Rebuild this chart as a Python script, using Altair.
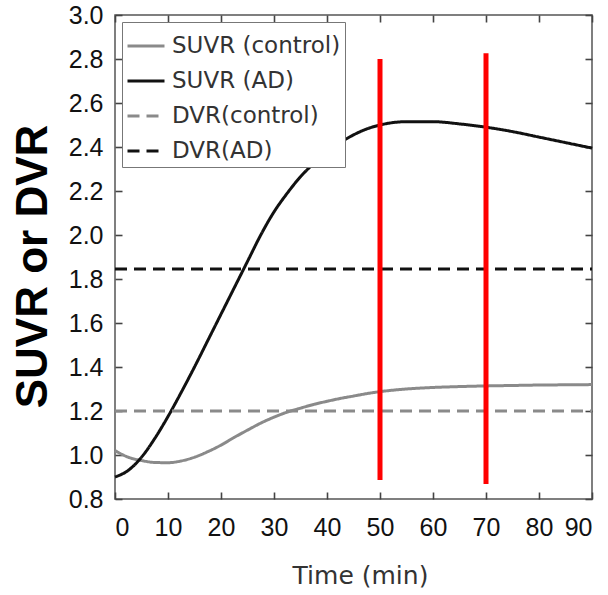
import altair as alt
import pandas as pd

# Sampling times (min) and regional uptake ratios
time_min = [0, 2.5, 5, 7.5, 10, 12.5, 15, 17.5, 20, 22.5, 25, 27.5, 30, 32.5,
            35, 37.5, 40, 42.5, 45, 47.5, 50, 55, 60, 65, 70, 75, 80, 85, 90]
suvr_ad = [0.90, 0.93, 0.99, 1.075, 1.175, 1.285, 1.40, 1.52, 1.64, 1.76,
           1.88, 2.00, 2.105, 2.19, 2.265, 2.325, 2.375, 2.42, 2.455, 2.482,
           2.50, 2.515, 2.515, 2.505, 2.49, 2.47, 2.445, 2.42, 2.395]
suvr_control = [1.02, 0.99, 0.975, 0.966, 0.965, 0.973, 0.99, 1.015, 1.045, 1.08,
                1.113, 1.145, 1.172, 1.195, 1.213, 1.23, 1.244, 1.257, 1.268, 1.279,
                1.288, 1.30, 1.307, 1.311, 1.314, 1.316, 1.318, 1.319, 1.32]
dvr_control = 1.20
dvr_ad = 1.845

series_names = ["SUVR (control)", "SUVR (AD)", "DVR(control)", "DVR(AD)"]
series_colors = ["#8a8a8a", "#111111", "#8a8a8a", "#111111"]
series_dashes = [[1, 0], [1, 0], [12, 7], [12, 7]]

# Scan window markers (min) with their vertical extents
window_time = [50, 70]
window_low = [0.886, 0.868]
window_high = [2.80, 2.826]

x_ticks = [0, 10, 20, 30, 40, 50, 60, 70, 80, 90]
y_ticks = [0.8, 1.0, 1.2, 1.4, 1.6, 1.8, 2.0, 2.2, 2.4, 2.6, 2.8, 3.0]

W, H = 477, 484
TICK = 7

rows = []
for t, v in zip(time_min, suvr_control):
    rows.append({"t": t, "v": v, "series": series_names[0]})
for t, v in zip(time_min, suvr_ad):
    rows.append({"t": t, "v": v, "series": series_names[1]})
for t in (time_min[0], time_min[-1]):
    rows.append({"t": t, "v": dvr_control, "series": series_names[2]})
    rows.append({"t": t, "v": dvr_ad, "series": series_names[3]})
curves = pd.DataFrame(rows)

windows = pd.DataFrame({"t": window_time, "lo": window_low, "hi": window_high})

x_scale = alt.Scale(domain=[0, 90], nice=False)
y_scale = alt.Scale(domain=[0.8, 3.0], nice=False)

# Axes are pulled inside the frame by the tick length so ticks point inward
tick_style = dict(ticks=True, tickSize=TICK, tickWidth=1.6, tickColor="#444444",
                  offset=-TICK, grid=False, domain=False)

x_axis = alt.Axis(
    values=x_ticks, format="d", title="Time (min)", **tick_style,
    labelFont="Liberation Sans", labelFontSize=25,
    labelColor="#111111", labelPadding=16, titleFont="DejaVu Sans",
    titleFontSize=25, titleFontWeight="normal", titleColor="#333333",
    titleX=245, titleY=64 + TICK, titleBaseline="top", titleAlign="center",
)
y_axis = alt.Axis(
    values=y_ticks, format=".1f", title="SUVR or DVR", **tick_style,
    labelFont="Liberation Sans", labelFontSize=25,
    labelColor="#111111", labelPadding=12, titleFont="Liberation Sans",
    titleFontSize=44, titleFontWeight="bold", titleColor="#000000",
    titleX=-82 - TICK, titleY=251, titleAngle=270, titleBaseline="middle",
    titleAlign="center",
)
x_axis_top = alt.Axis(values=x_ticks, orient="top", labels=False, title=None, **tick_style)
y_axis_right = alt.Axis(values=y_ticks, orient="right", labels=False, title=None, **tick_style)

lines = alt.Chart(curves).mark_line(strokeWidth=3, interpolate="monotone").encode(
    x=alt.X("t:Q", scale=x_scale, axis=x_axis),
    y=alt.Y("v:Q", scale=y_scale, axis=y_axis),
    color=alt.Color("series:N", scale=alt.Scale(domain=series_names, range=series_colors),
                    sort=series_names, title=None),
    strokeDash=alt.StrokeDash("series:N", scale=alt.Scale(domain=series_names, range=series_dashes),
                              sort=series_names, title=None),
    detail="series:N",
)

red = alt.Chart(windows).mark_rule(color="#ff0000", strokeWidth=5).encode(
    x=alt.X("t:Q", scale=x_scale, axis=x_axis_top),
    y=alt.Y("lo:Q", scale=y_scale, axis=y_axis_right),
    y2="hi:Q",
)

chart = alt.layer(lines, red).resolve_axis(
    x="independent", y="independent"
).properties(
    width=W, height=H,
    autosize=alt.AutoSizeParams(type="none"),
    padding={"left": 115, "top": 15, "right": 16, "bottom": 96},
    background="white",
).configure_view(
    stroke="#555555", strokeWidth=1.5
).configure_legend(
    orient="none", legendX=7, legendY=7, fillColor="white", strokeColor="#777777",
    padding=4, labelFont="DejaVu Sans", labelFontSize=23, labelColor="#333333",
    symbolType="stroke", symbolSize=1369, symbolStrokeWidth=3, labelOffset=6,
    rowPadding=3, labelLimit=300,
)

chart.save("out.html", embed_options={"renderer": "svg", "actions": False})
